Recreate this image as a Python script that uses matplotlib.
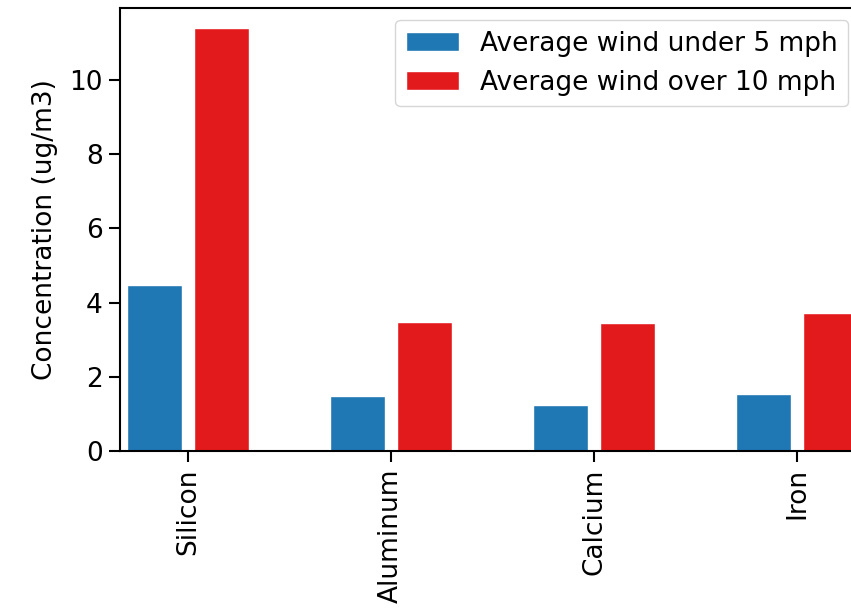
import matplotlib
matplotlib.use("Agg")
import matplotlib.pyplot as plt
import numpy as np

categories = ["Silicon", "Aluminum", "Calcium", "Iron"]
under5 = [4.47, 1.48, 1.24, 1.54]
over10 = [11.40, 3.48, 3.45, 3.72]
labels = ["Average wind under 5 mph", "Average wind over 10 mph"]

fig = plt.figure(figsize=(8.51, 6.08), dpi=100)
W, H = 851, 608
x0, x1 = -0.335, 3.5
ppu = 203.0
left = 120 / W
width = (x1 - x0) * ppu / W
bottom = 1 - 451 / H
height = (451 - 8) / H
ax = fig.add_axes([left, bottom, width, height])

fs = 19
x = np.arange(len(categories))
w = 0.27
ax.bar(x - 0.165, under5, w, color="#1f77b4", edgecolor="white", linewidth=1.0, label=labels[0])
ax.bar(x + 0.165, over10, w, color="#e31a1c", edgecolor="white", linewidth=1.0, label=labels[1])
ax.set_xlim(x0, x1)
ax.set_ylim(0, 11.94)
ax.set_xticks(x)
ax.set_xticklabels(categories, rotation=90, fontsize=fs)
ax.set_yticks([0, 2, 4, 6, 8, 10])
ax.tick_params(axis="both", labelsize=fs, length=8, width=1.5, pad=4.5)
ax.set_ylabel("Concentration (ug/m3)", fontsize=fs, labelpad=8)
for s in ax.spines.values():
    s.set_linewidth(1.5)
ax.legend(loc="upper right", bbox_to_anchor=(848 / W, 1 - 20 / H),
          bbox_transform=fig.transFigure, borderaxespad=0, fontsize=fs)
fig.savefig("out.png", dpi=100)
